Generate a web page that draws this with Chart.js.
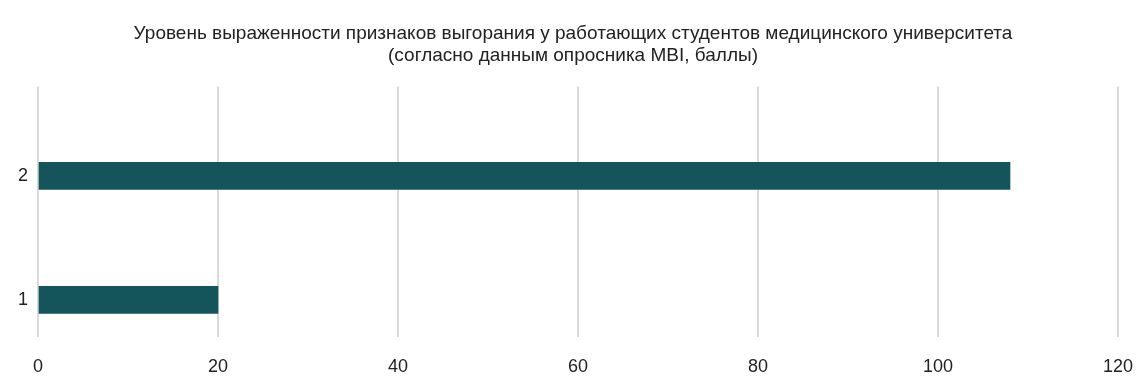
<!DOCTYPE html>
<html lang="ru">
<head>
  <meta charset="UTF-8">
  <title>Уровень выраженности признаков выгорания</title>
  <script src="https://cdn.jsdelivr.net/npm/chart.js"></script>
  <style>
    html, body { margin: 0; padding: 0; background: #fff; }
    #wrap { width: 1140px; height: 384px; }
  </style>
</head>
<body>
  <div id="wrap"><canvas id="grafik"></canvas></div>
  <script>
    // данные с картинки
    const kategorii = [1, 2];
    const bally = [20, 108];
    const xTicks = [0, 20, 40, 60, 80, 100, 120];
    const zagolovok = [
      'Уровень выраженности признаков выгорания у работающих студентов медицинского университета',
      '(согласно данным опросника MBI, баллы)'
    ];

    const tochki = kategorii.map((k, i) => ({ x: bally[i], y: k }));
    const shrift = 'Liberation Sans, Arial, sans-serif';

    new Chart(document.getElementById('grafik'), {
      type: 'bar',
      data: {
        datasets: [{
          label: 'MBI',
          data: tochki,
          backgroundColor: '#13555a',
          barThickness: 27
        }]
      },
      options: {
        indexAxis: 'y',
        responsive: true,
        maintainAspectRatio: false,
        animation: false,
        // слева 18 / справа 12, чтобы заголовок стоял по центру как в оригинале
        layout: { padding: { left: 18, right: 12, top: 0, bottom: 0 } },
        plugins: {
          legend: { display: false },
          tooltip: { enabled: false },
          title: {
            display: true,
            text: zagolovok,
            color: '#222',
            font: { family: shrift, size: 19, weight: 'normal', lineHeight: 1.2 },
            padding: { top: 22, bottom: 19 }
          }
        },
        scales: {
          x: {
            type: 'linear',
            min: 0,
            max: 120,
            afterBuildTicks: (s) => { s.ticks = xTicks.map(v => ({ value: v })); },
            afterFit: (s) => { s.paddingLeft = 0; s.paddingRight = 22; s.height = 47; },
            grid: { color: '#dadada', lineWidth: 2, drawTicks: false },
            border: { display: false },
            ticks: { color: '#222', padding: 19, font: { family: shrift, size: 18 } }
          },
          y: {
            type: 'linear',
            offset: false,
            min: 0.7,
            max: 2.72,
            afterBuildTicks: (s) => { s.ticks = kategorii.map(v => ({ value: v })); },
            afterFit: (s) => { s.paddingTop = 0; s.paddingBottom = 0; s.width = 20; },
            grid: { display: false, drawTicks: false },
            border: { display: false },
            ticks: { color: '#222', padding: 10, font: { family: shrift, size: 18 } }
          }
        }
      }
    });
  </script>
</body>
</html>
